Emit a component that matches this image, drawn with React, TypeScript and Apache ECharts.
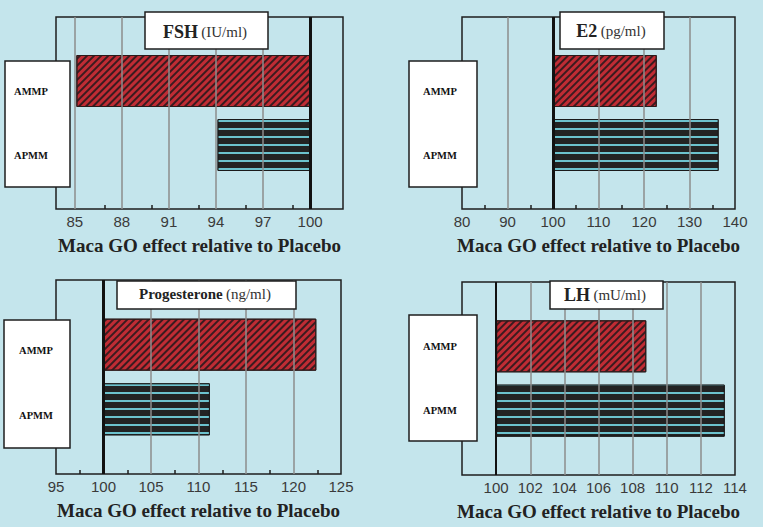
import React, { useEffect, useRef } from 'react';
import * as echarts from 'echarts';

// ---- data ----
const categories = ['AMMP', 'APMM'];

const fshValues = [85.1, 94.1];
const e2Values = [122.8, 136.4];
const progValues = [122.4, 111.2];
const lhValues = [108.8, 113.4];

const fshLabels = [85, 88, 91, 94, 97, 100];
const e2Labels = [80, 90, 100, 110, 120, 130, 140];
const progLabels = [95, 100, 105, 110, 115, 120, 125];
const lhLabels = [100, 102, 104, 106, 108, 110, 112, 114];

const fshGridLines = [85, 88, 91, 94, 97];
const e2GridLines = [90, 110, 120, 130];
const progGridLines = [105, 110, 115, 120];
const lhGridLines = [102, 104, 106, 108, 110, 112];

const fshMinorTicks = [86.9, 89.9, 92.9, 95.9, 98.9];
const e2MinorTicks = [85, 95, 105, 115, 125, 135];
const progMinorTicks = [97.5, 102.5, 107.5, 112.5, 117.5, 122.5];
const lhMinorTicks: number[] = [];

const referenceValue = 100;
const xTitle = 'Maca GO effect relative to Placebo';

const hormoneNames = ['FSH', 'E2', 'Progesterone', 'LH'];
const hormoneUnits = ['(IU/ml)', '(pg/ml)', '(ng/ml)', '(mU/ml)'];

// ---- layout / style ----
const panels = [
  {
    values: fshValues, labels: fshLabels, gridLines: fshGridLines, minor: fshMinorTicks,
    min: 83.8, max: 102.1,
    grid: { left: 56, top: 17, width: 287, height: 192 },
    titleBox: [145, 12, 123, 37], titleCenter: [205, 32], mainSize: 18,
    labelBox: [5, 61, 65, 126], labelDy: 10, labelMargin: 25, refWidth: 3,
  },
  {
    values: e2Values, labels: e2Labels, gridLines: e2GridLines, minor: e2MinorTicks,
    min: 80, max: 140,
    grid: { left: 462, top: 17, width: 273, height: 192 },
    titleBox: [560, 12, 104, 37], titleCenter: [611, 31], mainSize: 18,
    labelBox: [409, 61, 68, 126], labelDy: 10, labelMargin: 22, refWidth: 3,
  },
  {
    values: progValues, labels: progLabels, gridLines: progGridLines, minor: progMinorTicks,
    min: 95, max: 125,
    grid: { left: 56, top: 280, width: 285, height: 194 },
    titleBox: [117, 281, 179, 28], titleCenter: [205, 294], mainSize: 15,
    labelBox: [4, 320, 66, 128], labelDy: 6, labelMargin: 20, refWidth: 3,
  },
  {
    values: lhValues, labels: lhLabels, gridLines: lhGridLines, minor: lhMinorTicks,
    min: 98, max: 114,
    grid: { left: 462, top: 282, width: 273, height: 193 },
    titleBox: [550, 281, 113, 28], titleCenter: [605, 295], mainSize: 18,
    labelBox: [409, 315, 68, 126], labelDy: 0, labelMargin: 22, refWidth: 2,
  },
];

const barStyles = [
  {
    color: '#c02c34',
    borderColor: '#2a1a1a',
    borderWidth: 1,
    decal: {
      symbol: 'rect', symbolSize: 1, color: '#3a1b1f',
      dashArrayX: [1, 0], dashArrayY: [2, 3], rotation: -Math.PI / 4,
    },
  },
  {
    color: '#232323',
    borderColor: '#1a1a1a',
    borderWidth: 1,
    decal: {
      symbol: 'rect', symbolSize: 1, color: '#6cc2cd',
      dashArrayX: [1, 0], dashArrayY: [2, 6], rotation: 0,
    },
  },
];

const BORDER = '#1e1e1e';

export default function App() {
  const ref = useRef<HTMLDivElement>(null);

  useEffect(() => {
    const chart = echarts.init(ref.current as HTMLDivElement, null, { renderer: 'svg' });

    const grids = panels.map((p) => ({
      ...p.grid,
      show: true,
      borderColor: BORDER,
      borderWidth: 1.5,
      backgroundColor: 'transparent',
      containLabel: false,
      outerBoundsMode: 'none',
    }));

    const xAxes: any[] = [];
    panels.forEach((p, i) => {
      xAxes.push({
        type: 'value',
        gridIndex: i,
        min: p.min,
        max: p.max,
        startValue: referenceValue,
        position: 'bottom',
        z: 3,
        axisLine: { show: false },
        axisTick: { show: false, customValues: p.gridLines },
        splitLine: { show: true, lineStyle: { color: '#8c8c8c', width: 1.5 } },
        axisLabel: {
          customValues: p.labels,
          fontSize: 15,
          fontFamily: 'Liberation Sans',
          color: '#3a3a3a',
          margin: 5,
        },
        name: xTitle,
        nameLocation: 'middle',
        nameGap: 27,
        nameTextStyle: {
          fontFamily: 'Liberation Serif',
          fontWeight: 'bold',
          fontSize: 19,
          color: '#222',
        },
      });
      xAxes.push({
        type: 'value',
        gridIndex: i,
        min: p.min,
        max: p.max,
        position: 'bottom',
        z: 3,
        axisLine: { show: false },
        axisLabel: { show: false },
        splitLine: { show: false },
        axisTick: {
          show: p.minor.length > 0,
          inside: true,
          length: 4,
          customValues: p.minor.length ? p.minor : undefined,
          lineStyle: { color: BORDER, width: 1.5 },
        },
      });
    });

    const yAxes = panels.map((p, i) => ({
      type: 'category',
      gridIndex: i,
      inverse: true,
      boundaryGap: false,
      data: [' ', ...categories, '  '],
      z: 6,
      axisLine: { show: false },
      axisTick: { show: false },
      splitLine: { show: false },
      axisLabel: {
        interval: 0,
        margin: p.labelMargin,
        align: 'center',
        verticalAlign: p.labelDy > 2 ? 'top' : 'middle',
        lineHeight: p.labelDy > 2 ? 2 * p.labelDy : 12,
        fontFamily: 'Liberation Serif',
        fontWeight: 'bold',
        fontSize: 10.5,
        color: '#111',
      },
    }));

    const series = panels.map((p, i) => ({
      type: 'bar',
      xAxisIndex: 2 * i,
      yAxisIndex: i,
      barWidth: 52,
      z: 2,
      silent: true,
      data: categories.map((c, k) => ({ value: [p.values[k], c], itemStyle: barStyles[k] })),
      markLine: {
        silent: true,
        symbol: 'none',
        label: { show: false },
        lineStyle: { color: '#111', width: p.refWidth, type: 'solid' },
        data: [{ xAxis: referenceValue }],
      },
    }));

    const graphics: any[] = [];
    panels.forEach((p, i) => {
      const [lx, ly, lw, lh] = p.labelBox;
      graphics.push({
        type: 'rect', z: 4,
        shape: { x: lx, y: ly, width: lw, height: lh },
        style: { fill: '#ffffff', stroke: BORDER, lineWidth: 1.5 },
      });
      const [tx, ty, tw, th] = p.titleBox;
      graphics.push({
        type: 'rect', z: 10,
        shape: { x: tx, y: ty, width: tw, height: th },
        style: { fill: '#ffffff', stroke: BORDER, lineWidth: 1.5 },
      });
      graphics.push({
        type: 'text', z: 11,
        x: p.titleCenter[0], y: p.titleCenter[1],
        style: {
          text: `{a|${hormoneNames[i]}} {b|${hormoneUnits[i]}}`,
          align: 'center',
          verticalAlign: 'middle',
          rich: {
            a: { fontFamily: 'Liberation Serif', fontWeight: 'bold', fontSize: p.mainSize, fill: '#222' },
            b: { fontFamily: 'Liberation Serif', fontSize: 15, fill: '#333' },
          },
        },
      });
    });

    chart.setOption({
      animation: false,
      backgroundColor: '#c4e5ec',
      grid: grids,
      xAxis: xAxes,
      yAxis: yAxes,
      series,
      graphic: { elements: graphics },
    });

    return () => chart.dispose();
  }, []);

  return (
    <div
      ref={ref}
      style={{ position: 'fixed', left: 0, top: 0, width: 763, height: 527 }}
    />
  );
}
